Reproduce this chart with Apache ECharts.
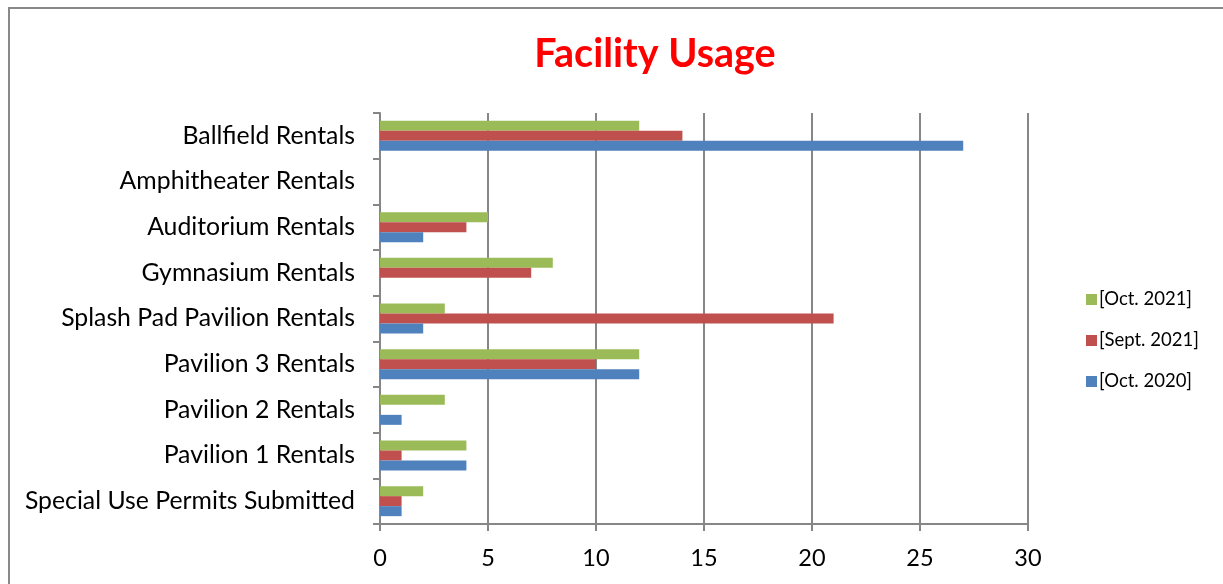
<!DOCTYPE html>
<html><head><meta charset="utf-8">
<script src="https://cdn.jsdelivr.net/npm/echarts@6/dist/echarts.min.js"></script>
<style>html,body{margin:0;padding:0;background:#fff}#c{width:1223px;height:584px}
#frame{position:absolute;left:8px;top:7px;width:1240px;height:600px;border:2px solid #898989;box-sizing:border-box;pointer-events:none}</style>
</head><body><div id="c"></div><div id="frame"></div>
<script>
const categories = ['Special Use Permits Submitted','Pavilion 1 Rentals','Pavilion 2 Rentals','Pavilion 3 Rentals','Splash Pad Pavilion Rentals','Gymnasium Rentals','Auditorium Rentals','Amphitheater Rentals','Ballfield Rentals'];
const oct2021 = [2,4,3,12,3,8,5,0,12];
const sept2021 = [1,1,0,10,21,7,4,0,14];
const oct2020 = [1,4,1,12,2,0,2,0,27];
const xTicks = [0,5,10,15,20,25,30];
const seriesNames = ['[Oct. 2021]','[Sept. 2021]','[Oct. 2020]'];
const colors = ['#9BBB59','#C0504D','#4F81BD'];
const font = 'Lato, Carlito, Calibri, sans-serif';
const chart = echarts.init(document.getElementById('c'));
const dataSets = [oct2021, sept2021, oct2020];
chart.setOption({
  animation:false,
  title:{text:'Facility Usage',left:650,top:29,textAlign:'center',textStyle:{color:'#FF0000',fontSize:39.5,fontWeight:'bold',fontFamily:font}},
  legend:{orient:'vertical',left:1081,top:285,itemWidth:11,itemHeight:11,itemGap:22,icon:'rect',
    data:seriesNames,
    textStyle:{fontSize:18.5,fontFamily:font,color:'#000',padding:[0,0,0,-3]}},
  grid:{left:380,right:195,top:113,bottom:60},
  xAxis:{type:'value',min:xTicks[0],max:xTicks[xTicks.length-1],interval:5,
    axisLine:{show:true,lineStyle:{color:'#868686',width:2}},
    axisTick:{show:true,length:7,lineStyle:{color:'#868686',width:2}},
    splitLine:{show:true,lineStyle:{color:'#868686',width:2}},
    axisLabel:{fontSize:23.5,fontFamily:font,color:'#000',margin:22}},
  yAxis:{type:'category',data:categories,
    axisLine:{show:true,lineStyle:{color:'#868686',width:2}},
    axisTick:{show:true,length:7,alignWithLabel:false,lineStyle:{color:'#868686',width:2}},
    axisLabel:{fontSize:24.8,fontFamily:font,color:'#000',margin:25}},
  series: dataSets.map((d,i)=>({name:seriesNames[i],type:'bar',data:d,barWidth:10,barGap:'0%',
    itemStyle:{color:colors[i]}}))
});
</script></body></html>
